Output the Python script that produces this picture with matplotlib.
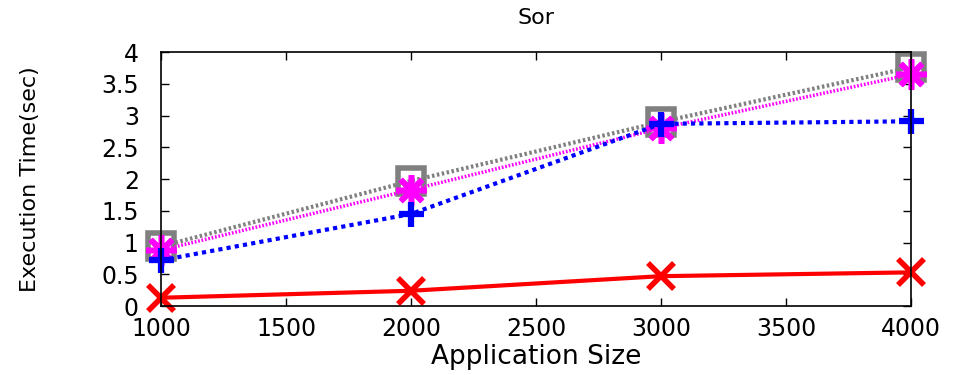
import matplotlib
matplotlib.use("Agg")
import matplotlib.pyplot as plt

# execution times per application size
sizes = [1000, 2000, 3000, 4000]
red_times = [0.13, 0.24, 0.47, 0.53]
blue_times = [0.72, 1.45, 2.87, 2.91]
magenta_times = [0.88, 1.83, 2.80, 3.65]
gray_times = [0.94, 1.97, 2.90, 3.76]

x_ticks = [1000, 1500, 2000, 2500, 3000, 3500, 4000]
y_ticks = [0, 0.5, 1, 1.5, 2, 2.5, 3, 3.5, 4]
y_tick_labels = ['0', '0.5', '1', '1.5', '2', '2.5', '3', '3.5', '4']

fig = plt.figure(figsize=(9.56, 3.75), dpi=100)
ax = fig.add_axes([0.1684, 0.184, 0.7846, 0.677])

ax.plot(sizes, gray_times, color='#808080', linestyle=(0, (0.6, 0.6)), linewidth=3,
        marker='s', markersize=19, markerfacecolor='none', markeredgewidth=4,
        clip_on=False)
ax.plot(sizes, magenta_times, color='#ff00ff', linestyle=(0, (0.5, 0.5)), linewidth=2.5,
        marker=(8, 2, 0), markersize=22, markeredgewidth=4, clip_on=False)
ax.plot(sizes, blue_times, color='#0000ff', linestyle=(0, (1, 1)), linewidth=3,
        marker='+', markersize=18, markeredgewidth=4.5, clip_on=False)
ax.plot(sizes, red_times, color='#ff0000', linestyle='-', linewidth=3,
        marker='x', markersize=19, markeredgewidth=4, clip_on=False)

ax.set_xlim(1000, 4000)
ax.set_ylim(0, 4)
ax.set_xticks(x_ticks)
ax.set_yticks(y_ticks)
ax.set_yticklabels(y_tick_labels)
ax.tick_params(direction='in', top=True, right=True, length=6, width=1,
               labelsize=17)
ax.tick_params(axis='x', pad=8)
ax.tick_params(axis='y', pad=16)
for spine in ax.spines.values():
    spine.set_linewidth(1.2)

ax.set_title('Sor', fontsize=16, pad=20)
ax.set_xlabel('Application Size', fontsize=19, labelpad=2)
ax.set_ylabel('Execution Time(sec)', fontsize=16, labelpad=44)

fig.savefig('out.png', dpi=100)
